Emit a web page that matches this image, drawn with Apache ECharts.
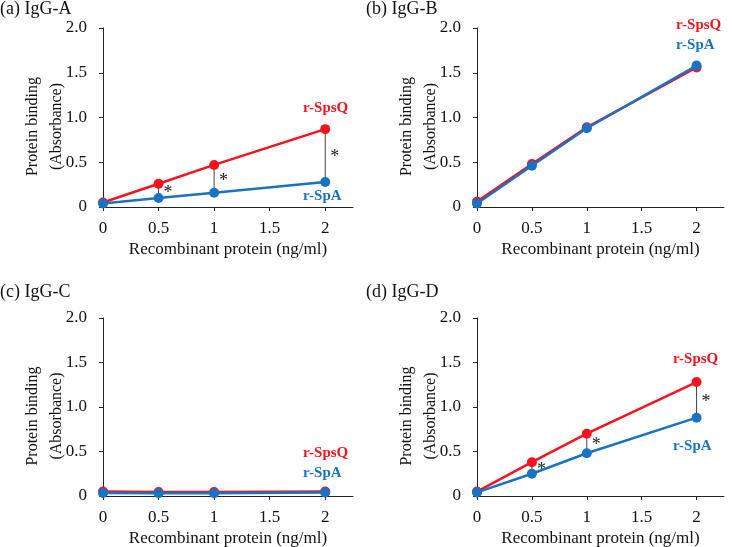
<!DOCTYPE html>
<html>
<head>
<meta charset="utf-8">
<script src="https://cdn.jsdelivr.net/npm/echarts@6/dist/echarts.min.js"></script>
<style>html,body{margin:0;padding:0;background:#fff}#c{width:732px;height:547px}</style>
</head>
<body>
<div id="c"></div>
<script>
const xValues = [0, 0.5, 1, 2];
const xTickValues = [0, 0.5, 1, 1.5, 2];
const yTickValues = [0, 0.5, 1, 1.5, 2];
const panelTitles = ['(a) IgG-A', '(b) IgG-B', '(c) IgG-C', '(d) IgG-D'];
const spsqA = [0.05, 0.26, 0.47, 0.87];
const spaA  = [0.04, 0.10, 0.16, 0.28];
const spsqB = [0.06, 0.48, 0.89, 1.56];
const spaB  = [0.04, 0.46, 0.88, 1.58];
const spsqC = [0.05, 0.045, 0.045, 0.05];
const spaC  = [0.035, 0.03, 0.03, 0.04];
const spsqD = [0.05, 0.38, 0.70, 1.28];
const spaD  = [0.04, 0.25, 0.48, 0.88];
const sigA = [0.5, 1, 2];
const sigB = [];
const sigC = [];
const sigD = [0.5, 1, 2];

const FONT = 'Liberation Serif';
const RED = '#f5141e';
const BLUE = '#1a73c2';

const grids = [
  {left: 103, top: 28, width: 250, height: 179, outerBoundsMode: 'none'},
  {left: 477, top: 28, width: 247, height: 179, outerBoundsMode: 'none'},
  {left: 103, top: 318, width: 250, height: 178, outerBoundsMode: 'none'},
  {left: 477, top: 318, width: 247, height: 178, outerBoundsMode: 'none'}
];
const spsq = [spsqA, spsqB, spsqC, spsqD];
const spa = [spaA, spaB, spaC, spaD];
const sig = [sigA, sigB, sigC, sigD];
const titlePos = [[0, 0], [366, 0], [0, 283], [366, 283]];
const labelPos = [
  [[303, 108], [303, 196]],
  [[676, 25], [676, 45]],
  [[303, 453], [303, 473]],
  [[673, 359], [673, 446]]
];

const xAxes = [], yAxes = [], series = [], graphics = [];
grids.forEach((g, i) => {
  xAxes.push({
    type: 'value', gridIndex: i, min: 0, max: 2.25,
    name: 'Recombinant protein (ng/ml)', nameLocation: 'middle', nameGap: 34,
    nameTextStyle: {fontFamily: FONT, fontSize: 17, color: '#111'},
    axisLine: {show: true, lineStyle: {color: '#222', width: 1}},
    axisTick: {show: true, length: 4, lineStyle: {color: '#222'}, customValues: xTickValues},
    axisLabel: {fontFamily: FONT, fontSize: 17, color: '#111', margin: 13,
      customValues: xTickValues, formatter: v => String(v)},
    splitLine: {show: false}
  });
  yAxes.push({
    type: 'value', gridIndex: i, min: 0, max: 2, interval: 0.5,
    axisLine: {show: true, lineStyle: {color: '#222', width: 1}},
    axisTick: {show: true, length: 4, lineStyle: {color: '#222'}},
    axisLabel: {fontFamily: FONT, fontSize: 17, color: '#111', margin: 16,
      formatter: v => v === 0 ? '0' : v.toFixed(1)},
    splitLine: {show: false}
  });
  const sigData = sig[i].map(x => {
    const k = xValues.indexOf(x);
    return [x, spa[i][k], spsq[i][k]];
  });
  series.push({
    type: 'custom', xAxisIndex: i, yAxisIndex: i, z: 1, clip: false,
    data: sigData,
    renderItem: (params, api) => {
      const x = api.value(0), lo = api.value(1), hi = api.value(2);
      const p1 = api.coord([x, lo]);
      const p2 = api.coord([x, hi]);
      return {
        type: 'group',
        children: [
          {type: 'line', shape: {x1: p1[0], y1: p1[1], x2: p2[0], y2: p2[1]},
           style: {stroke: '#444', lineWidth: 1}},
          {type: 'text', x: p1[0] + 5, y: (p1[1] + p2[1]) / 2 + 2,
           style: {text: '*', fontFamily: FONT, fontSize: 18, fill: '#222',
                   verticalAlign: 'middle', align: 'left'}}
        ]
      };
    }
  });
  series.push({
    type: 'line', name: 'r-SpsQ', xAxisIndex: i, yAxisIndex: i, z: 2, clip: false,
    data: xValues.map((x, k) => [x, spsq[i][k]]),
    symbol: 'circle', symbolSize: 10,
    lineStyle: {color: RED, width: 2.5}, itemStyle: {color: RED}
  });
  series.push({
    type: 'line', name: 'r-SpA', xAxisIndex: i, yAxisIndex: i, z: 3, clip: false,
    data: xValues.map((x, k) => [x, spa[i][k]]),
    symbol: 'circle', symbolSize: 10,
    lineStyle: {color: BLUE, width: 2.5}, itemStyle: {color: BLUE}
  });
  const ox = g.left, cy = g.top + g.height / 2 + 9;
  graphics.push({type: 'text', x: ox - 70, y: cy, rotation: Math.PI / 2,
    style: {text: 'Protein binding', fontFamily: FONT, fontSize: 16, fill: '#111',
            align: 'center', verticalAlign: 'middle'}});
  graphics.push({type: 'text', x: ox - 46, y: cy, rotation: Math.PI / 2,
    style: {text: '(Absorbance)', fontFamily: FONT, fontSize: 16, fill: '#111',
            align: 'center', verticalAlign: 'middle'}});
  graphics.push({type: 'text', left: titlePos[i][0], top: titlePos[i][1],
    style: {text: panelTitles[i], fontFamily: FONT, fontSize: 18, fill: '#111'}});
  graphics.push({type: 'text', x: labelPos[i][0][0], y: labelPos[i][0][1],
    style: {text: 'r-SpsQ', fontFamily: FONT, fontSize: 15, fontWeight: 'bold', fill: RED,
            verticalAlign: 'middle', align: 'left'}});
  graphics.push({type: 'text', x: labelPos[i][1][0], y: labelPos[i][1][1],
    style: {text: 'r-SpA', fontFamily: FONT, fontSize: 15, fontWeight: 'bold', fill: BLUE,
            verticalAlign: 'middle', align: 'left'}});
});

const chart = echarts.init(document.getElementById('c'), null, {renderer: 'canvas'});
chart.setOption({
  animation: false,
  backgroundColor: '#fff',
  grid: grids,
  xAxis: xAxes,
  yAxis: yAxes,
  series: series,
  graphic: graphics
});
</script>
</body>
</html>
